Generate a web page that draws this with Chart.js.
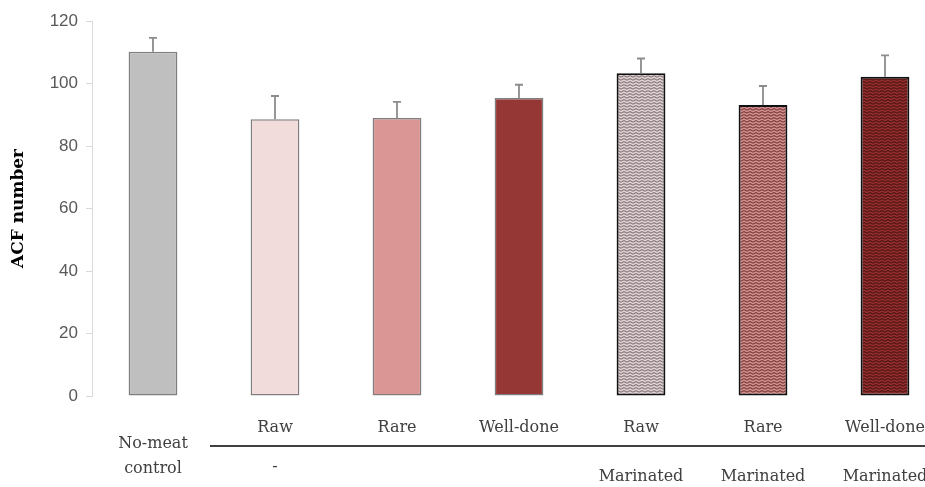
<!DOCTYPE html>
<html>
<head>
<meta charset="utf-8">
<script src="https://cdn.jsdelivr.net/npm/chart.js@4.4.0/dist/chart.umd.min.js"></script>
<style>
  body { margin: 0; overflow: hidden; background: #fff; }
</style>
</head>
<body>
<canvas id="acfChart" width="946" height="487"></canvas>
<script>
// values
const groups = ['control', 'raw', 'rare', 'welldone', 'marRaw', 'marRare', 'marWelldone'];
const acfMean = [110.2, 88.6, 89.0, 95.4, 103.3, 93.1, 102.2];
const acfErr = [4.4, 7.4, 5.1, 4.2, 4.7, 6.1, 6.8];
const cookLabels = ['', 'Raw', 'Rare', 'Well-done', 'Raw', 'Rare', 'Well-done'];
const marinadeLabels = ['', '-', '', '', 'Marinated', 'Marinated', 'Marinated'];
const controlLabel = ['No-meat', 'control'];

// zigzag fill for the marinated bars
function zigzag(base, line) {
    const c = document.createElement('canvas');
    c.width = 6;
    c.height = 3;
    const g = c.getContext('2d');
    g.fillStyle = base;
    g.fillRect(0, 0, 6, 3);
    g.strokeStyle = line;
    g.lineWidth = 1.1;
    g.beginPath();
    g.moveTo(0, 0.5);
    g.lineTo(3, 2.2);
    g.lineTo(6, 0.5);
    g.stroke();
    return g.createPattern(c, 'repeat');
}

const fills = [
    '#bfbfbf', '#f2dcdb', '#d99694', '#953735',
    zigzag('#e2d4d5', '#85777a'),
    zigzag('#d4908e', '#7a3a39'),
    zigzag('#952f2e', '#4f1414')
];
const borders = ['#7f7f7f', '#7f7f7f', '#7f7f7f', '#7f7f7f', '#111', '#111', '#111'];
const borderW = [1.5, 1.5, 1.5, 1.5, 2, 2, 2];

const errorBars = {
    id: 'errorBars',
    afterDatasetsDraw(chart) {
        const ctx = chart.ctx;
        const y = chart.scales.y;
        const meta = chart.getDatasetMeta(0);
        ctx.save();
        ctx.strokeStyle = '#8c8c8c';
        ctx.lineWidth = 1.8;
        meta.data.forEach((bar, i) => {
            const top = y.getPixelForValue(acfMean[i] + acfErr[i]);
            ctx.beginPath();
            ctx.moveTo(bar.x, bar.y);
            ctx.lineTo(bar.x, top);
            ctx.moveTo(bar.x - 4, top);
            ctx.lineTo(bar.x + 4, top);
            ctx.stroke();
        });
        ctx.restore();
    }
};

const groupLabels = {
    id: 'groupLabels',
    afterDraw(chart) {
        const ctx = chart.ctx;
        const x = chart.scales.x;
        ctx.save();
        ctx.font = '16px "DejaVu Serif"';
        ctx.fillStyle = '#404040';
        ctx.textAlign = 'center';
        ctx.textBaseline = 'middle';
        groups.forEach((g, i) => {
            const px = x.getPixelForValue(i);
            if (cookLabels[i]) ctx.fillText(cookLabels[i], px, 428);
            if (marinadeLabels[i] === '-') ctx.fillText('-', px, 467);
            else if (marinadeLabels[i]) ctx.fillText(marinadeLabels[i], px, 477);
        });
        const cx = x.getPixelForValue(0);
        ctx.fillText(controlLabel[0], cx, 444);
        ctx.fillText(controlLabel[1], cx, 469);
        ctx.strokeStyle = '#404040';
        ctx.lineWidth = 2;
        ctx.beginPath();
        ctx.moveTo(210, 446);
        ctx.lineTo(chart.width, 446);
        ctx.stroke();
        ctx.restore();
    }
};

const ctx = document.getElementById('acfChart').getContext('2d');
const acfChart = new Chart(ctx, {
    type: 'bar',
    data: {
        labels: groups,
        datasets: [{
            data: acfMean,
            backgroundColor: fills,
            borderColor: borders,
            borderWidth: borderW,
            borderSkipped: false,
            barPercentage: 0.4,
            categoryPercentage: 1
        }]
    },
    options: {
        responsive: false,
        animation: false,
        layout: { padding: { top: 21, bottom: 91, left: 0, right: 0 } },
        plugins: {
            legend: { display: false },
            tooltip: { enabled: false }
        },
        scales: {
            x: { display: false },
            y: {
                min: 0,
                max: 120,
                afterFit(scale) { scale.width = 92; },
                ticks: {
                    stepSize: 20,
                    padding: 8,
                    color: '#595959',
                    font: { family: 'Liberation Sans', size: 17 }
                },
                grid: {
                    drawOnChartArea: false,
                    drawTicks: true,
                    tickLength: 6,
                    color: '#d9d9d9'
                },
                border: { color: '#d9d9d9', width: 1 },
                title: {
                    display: true,
                    text: 'ACF number',
                    color: '#000',
                    font: { family: 'DejaVu Serif', size: 17, weight: 'bold' },
                    padding: { top: 8, bottom: 0 }
                }
            }
        }
    },
    plugins: [errorBars, groupLabels]
});
</script>
</body>
</html>
